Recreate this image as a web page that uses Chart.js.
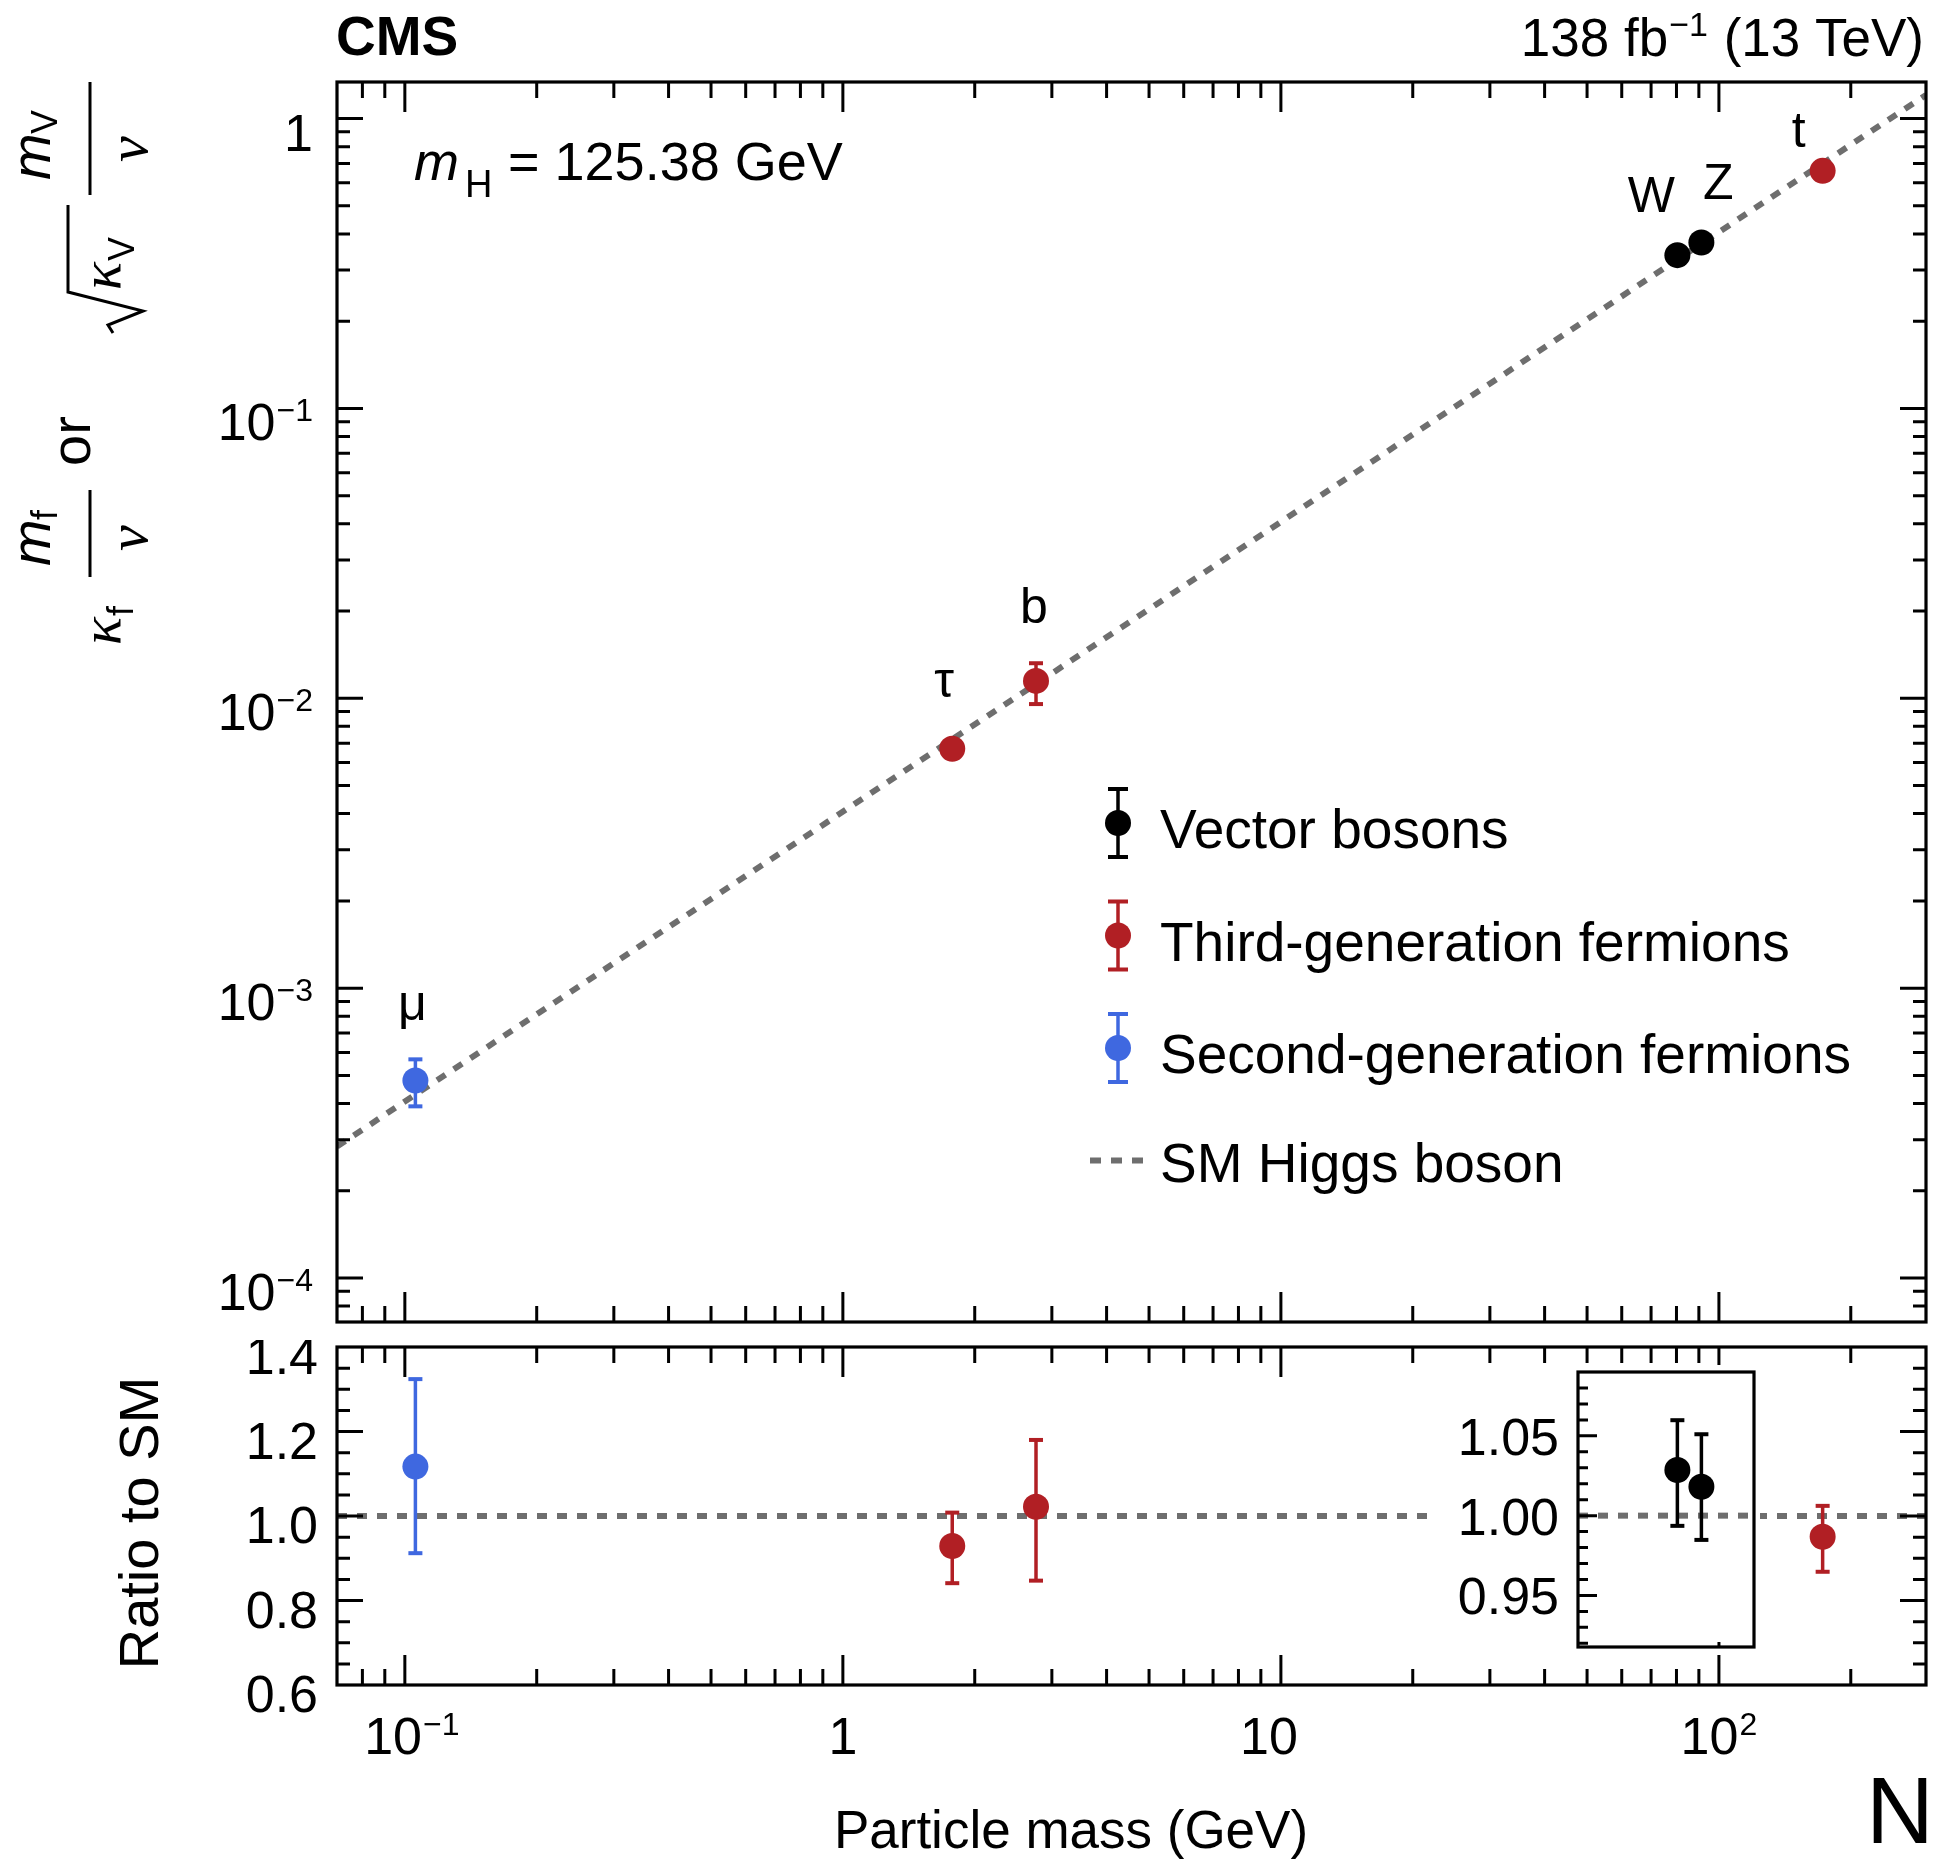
<!DOCTYPE html>
<html>
<head>
<meta charset="utf-8">
<script src="https://cdn.jsdelivr.net/npm/chart.js@4.4.1/dist/chart.umd.min.js"></script>
<style>
  body { margin: 0; background: #fff; }
  #wrap { position: relative; width: 1933px; height: 1862px; background: #fff; }
  #wrap canvas { position: absolute; }
</style>
</head>
<body>
<div id="wrap">
  <canvas id="mainChart" width="1933" height="1340" style="left:0;top:0"></canvas>
  <canvas id="ratioChart" width="1933" height="522" style="left:0;top:1340px"></canvas>
  <canvas id="insetChart" width="330" height="287" style="left:1430px;top:1365px"></canvas>
</div>
<script>
// ---- data ----
var particles = ['μ', 'τ', 'b', 'W', 'Z', 't'];
var group     = ['second', 'third', 'third', 'vector', 'vector', 'third'];
var masses    = [0.1057, 1.777, 2.76, 80.38, 91.19, 172.5];          // GeV

// upper panel: kappa * m / v  (or sqrt(kappa_V) * m_V / v)
var coupling   = [4.80e-4, 6.70e-3, 1.148e-2, 0.3378, 0.3736, 0.660];
var couplingHi = [5.68e-4, 7.26e-3, 1.321e-2, 0.348, 0.3857, 0.7105];
var couplingLo = [3.91e-4, 6.08e-3, 9.55e-3, 0.3263, 0.3614, 0.6024];

// lower panel: ratio to SM
var ratio   = [1.117, 0.929, 1.022, 1.0286, 1.0181, 0.951];
var ratioHi = [1.324, 1.008, 1.180, 1.0598, 1.051, 1.024];
var ratioLo = [0.912, 0.841, 0.847, 0.9936, 0.9848, 0.868];

// SM Higgs boson expectation (end points of the dotted line)
var smLineX = [0.07, 297];
var smLineY = [2.843e-4, 1.206];
var smRatio = [1, 1];

// tick labels
var xTicks = [0.1, 1, 10, 100];
var xTickLabels = [['10', '−1'], ['1', ''], ['10', ''], ['10', '2']];
var yTicks = [1e-4, 1e-3, 1e-2, 1e-1, 1];
var yTickLabels = [['10', '−4'], ['10', '−3'], ['10', '−2'], ['10', '−1'], ['1', '']];
var ratioTicks = [0.6, 0.8, 1.0, 1.2, 1.4];
var ratioTickLabels = ['0.6', '0.8', '1.0', '1.2', '1.4'];
var insetTicks = [0.95, 1.00, 1.05];
var insetTickLabels = ['0.95', '1.00', '1.05'];

// ---- styles ----
var colors = { vector: '#000000', third: '#b11f24', second: '#3f68e0' };
var groupNames = { vector: 'Vector bosons', third: 'Third-generation fermions', second: 'Second-generation fermions' };
var smColor = '#6e6e6e';
var SANS = '"Liberation Sans", Arial, Helvetica, sans-serif';
var SERIF = '"Liberation Serif", "Times New Roman", serif';
var labelOffset = [[-3, -61], [-8, -52], [-2, -58], [-26, -43], [17, -44], [-24, -24]];
var xLabelShift = [7, 0, -12, 0];
var DOT_R = 13;

function pointSet(key, yv, hi, lo, keep) {
  var data = [];
  masses.forEach(function (m, i) {
    if (group[i] === key && keep(i)) data.push({ x: m, y: yv[i], hi: hi[i], lo: lo[i] });
  });
  return {
    label: groupNames[key], data: data, group: key,
    backgroundColor: colors[key], borderWidth: 0,
    pointRadius: DOT_R, pointHoverRadius: DOT_R, showLine: false,
    errorBars: true, order: 1
  };
}

function lineSet(xs, ys) {
  return {
    label: 'SM Higgs boson', data: xs.map(function (x, i) { return { x: x, y: ys[i] }; }),
    showLine: true, borderColor: smColor, borderWidth: 6, borderDash: [10, 10],
    pointRadius: 0, fill: false, order: 2, isLine: true
  };
}

// minor/major tick helpers (positions only)
function logTicks(lo, hi, major, minor) {
  var out = [];
  for (var e = Math.floor(Math.log10(lo)); e <= Math.ceil(Math.log10(hi)); e++) {
    for (var k = 1; k <= 9; k++) {
      var v = k * Math.pow(10, e);
      if (v >= lo * 1.0001 && v <= hi * 0.9999) out.push([v, k === 1 ? major : minor]);
    }
  }
  return out;
}

function drawFrame(chart, o) {
  var ctx = chart.ctx, a = chart.chartArea, sx = chart.scales.x, sy = chart.scales.y;
  ctx.save();
  ctx.strokeStyle = '#000';
  ctx.lineWidth = 3;
  ctx.beginPath();
  (o.xTicks || []).forEach(function (t) {
    var px = sx.getPixelForValue(t[0]);
    if (px < a.left + 2 || px > a.right - 2) return;
    if (o.bottom) { ctx.moveTo(px, a.bottom); ctx.lineTo(px, a.bottom - t[1]); }
    if (o.top) { ctx.moveTo(px, a.top); ctx.lineTo(px, a.top + t[1]); }
  });
  (o.yTicks || []).forEach(function (t) {
    var py = sy.getPixelForValue(t[0]);
    if (py < a.top + 2 || py > a.bottom - 2) return;
    if (o.left) { ctx.moveTo(a.left, py); ctx.lineTo(a.left + t[1], py); }
    if (o.right) { ctx.moveTo(a.right, py); ctx.lineTo(a.right - t[1], py); }
  });
  ctx.stroke();
  ctx.lineWidth = 3.2;
  ctx.strokeRect(a.left, a.top, a.right - a.left, a.bottom - a.top);
  ctx.restore();
}

function expLabel(ctx, base, exp, x, y, align, size) {
  size = size || 52;
  var bf = size + 'px ' + SANS, ef = Math.round(size * 0.62) + 'px ' + SANS;
  ctx.font = bf; var wb = ctx.measureText(base).width;
  ctx.font = ef; var we = exp ? ctx.measureText(exp).width + 1 : 0;
  var w = wb + we;
  var x0 = align === 'right' ? x - w : (align === 'center' ? x - w / 2 : x);
  ctx.textAlign = 'left';
  ctx.font = bf; ctx.fillText(base, x0, y);
  if (exp) { ctx.font = ef; ctx.fillText(exp, x0 + wb + 1, y - size * 0.37); }
  return w;
}

function rot(ctx, s, bx, sy, font) {
  ctx.save();
  ctx.translate(bx, sy);
  ctx.rotate(-Math.PI / 2);
  ctx.font = font; ctx.textAlign = 'left'; ctx.textBaseline = 'alphabetic';
  ctx.fillText(s, 0, 0);
  ctx.restore();
}

// error bars: only the part sticking out of the marker is drawn
var errorBars = {
  id: 'errorBars',
  beforeDatasetDraw: function (chart, args) {
    var ds = chart.data.datasets[args.index];
    if (!ds.errorBars) return;
    var ctx = chart.ctx, sy = chart.scales.y, cap = 7;
    ctx.save();
    ctx.strokeStyle = ds.backgroundColor;
    args.meta.data.forEach(function (pt, i) {
      var d = ds.data[i];
      [sy.getPixelForValue(d.hi), sy.getPixelForValue(d.lo)].forEach(function (end) {
        if (Math.abs(end - pt.y) <= DOT_R + 2) return;
        ctx.lineWidth = 3.5;
        ctx.beginPath(); ctx.moveTo(pt.x, pt.y); ctx.lineTo(pt.x, end); ctx.stroke();
        ctx.lineWidth = 4;
        ctx.beginPath(); ctx.moveTo(pt.x - cap, end); ctx.lineTo(pt.x + cap, end); ctx.stroke();
      });
    });
    ctx.restore();
  }
};

function baseOptions(xmin, xmax, ytype, ymin, ymax, pad) {
  return {
    responsive: false, animation: false, devicePixelRatio: 1,
    layout: { padding: pad, autoPadding: false },
    plugins: { legend: { display: false }, tooltip: { enabled: false } },
    events: [],
    scales: {
      x: { type: 'logarithmic', min: xmin, max: xmax, bounds: 'data', display: false },
      y: { type: ytype, min: ymin, max: ymax, bounds: 'data', display: false }
    }
  };
}

var X_MIN = 0.07, X_MAX = 297;
var xTickMarks = logTicks(X_MIN, X_MAX, 30, 16);

// ---------------- upper panel ----------------
var mainDecor = {
  id: 'mainDecor',
  afterDraw: function (chart) {
    var ctx = chart.ctx, sx = chart.scales.x, sy = chart.scales.y;
    drawFrame(chart, { xTicks: xTickMarks, yTicks: logTicks(7.05e-5, 1.337, 26, 13),
      top: true, bottom: true, left: true, right: true });
    ctx.save();
    ctx.fillStyle = '#000';
    yTicks.forEach(function (v, i) {
      var py = sy.getPixelForValue(v);
      expLabel(ctx, yTickLabels[i][0], yTickLabels[i][1], 313, py + 32, 'right');
    });
    // headers
    ctx.font = 'bold 55px ' + SANS; ctx.textAlign = 'left';
    ctx.fillText('CMS', 336, 55);
    ctx.font = '53px ' + SANS;
    var p1 = '138 fb', p2 = ' (13 TeV)';
    var w1 = ctx.measureText(p1).width, w3 = ctx.measureText(p2).width;
    ctx.font = '34px ' + SANS; var w2 = ctx.measureText('−1').width + 2;
    var x0 = 1924 - w1 - w2 - w3;
    ctx.font = '53px ' + SANS; ctx.fillText(p1, x0, 56);
    ctx.font = '34px ' + SANS; ctx.fillText('−1', x0 + w1 + 1, 36);
    ctx.font = '53px ' + SANS; ctx.fillText(p2, x0 + w1 + w2, 56);
    // m_H label
    ctx.font = 'italic 54px ' + SANS; ctx.fillText('m', 414, 180);
    ctx.font = '38px ' + SANS; ctx.fillText('H', 465, 197);
    ctx.font = '54px ' + SANS; ctx.fillText('= 125.38 GeV', 508, 180);
    // particle labels
    ctx.font = '50px ' + SANS; ctx.textAlign = 'center';
    particles.forEach(function (p, i) {
      var px = sx.getPixelForValue(masses[i]) + labelOffset[i][0];
      var py = sy.getPixelForValue(coupling[i]) + labelOffset[i][1];
      ctx.fillText(p, px, py);
    });
    // legend
    var lx = 1118, ly = 823, step = 112.5;
    chart.data.datasets.forEach(function (ds, k) {
      var cy = ly + k * step;
      ctx.textAlign = 'left'; ctx.fillStyle = '#000'; ctx.font = '55px ' + SANS;
      if (ds.isLine) {
        ctx.save();
        ctx.strokeStyle = smColor; ctx.lineWidth = 6; ctx.setLineDash([11, 10]);
        ctx.beginPath(); ctx.moveTo(1090, cy); ctx.lineTo(1148, cy); ctx.stroke();
        ctx.restore();
        ctx.fillText(ds.label, 1160, cy + 21);
        return;
      }
      ctx.strokeStyle = ds.backgroundColor; ctx.fillStyle = ds.backgroundColor;
      ctx.lineWidth = 3.5;
      ctx.beginPath(); ctx.moveTo(lx, cy - 34); ctx.lineTo(lx, cy + 34); ctx.stroke();
      ctx.lineWidth = 4;
      ctx.beginPath();
      ctx.moveTo(lx - 10, cy - 34); ctx.lineTo(lx + 10, cy - 34);
      ctx.moveTo(lx - 10, cy + 34); ctx.lineTo(lx + 10, cy + 34);
      ctx.stroke();
      ctx.beginPath(); ctx.arc(lx, cy, DOT_R, 0, Math.PI * 2); ctx.fill();
      ctx.fillStyle = '#000';
      ctx.fillText(ds.label, 1160, cy + 25);
    });
    // y axis title (rotated maths)
    ctx.fillStyle = '#000'; ctx.strokeStyle = '#000';
    var mI = 'italic 56px ' + SANS, kI = 'italic 58px ' + SERIF, sub = '36px ' + SANS;
    rot(ctx, 'κ', 120, 645, kI);
    rot(ctx, 'f', 133, 616, sub);
    rot(ctx, 'm', 50, 566, mI);
    rot(ctx, 'f', 57, 520, sub);
    rot(ctx, 'v', 147, 551, kI);
    rot(ctx, 'or', 90, 466, '56px ' + SANS);
    rot(ctx, 'κ', 120, 290, kI);
    rot(ctx, 'V', 134, 261, sub);
    rot(ctx, 'm', 50, 180, mI);
    rot(ctx, 'V', 57, 134, sub);
    rot(ctx, 'v', 147, 162, kI);
    ctx.lineWidth = 3;
    ctx.beginPath();
    ctx.moveTo(90, 577); ctx.lineTo(90, 490);
    ctx.moveTo(90, 195); ctx.lineTo(90, 82);
    ctx.stroke();
    ctx.beginPath();
    ctx.moveTo(113, 333); ctx.lineTo(108, 325); ctx.lineTo(143, 311);
    ctx.lineTo(68, 292); ctx.lineTo(68, 205);
    ctx.stroke();
    ctx.restore();
  }
};

var mainKeep = function () { return true; };
new Chart(document.getElementById('mainChart'), {
  type: 'scatter',
  data: {
    datasets: [
      pointSet('vector', coupling, couplingHi, couplingLo, mainKeep),
      pointSet('third', coupling, couplingHi, couplingLo, mainKeep),
      pointSet('second', coupling, couplingHi, couplingLo, mainKeep),
      lineSet(smLineX, smLineY)
    ]
  },
  options: baseOptions(X_MIN, X_MAX, 'logarithmic', 7.05e-5, 1.337, { left: 337, right: 7, top: 82, bottom: 18 }),
  plugins: [errorBars, mainDecor]
});

// ---------------- ratio panel ----------------
var ratioMarks = [];
for (var i = 0; i <= 16; i++) ratioMarks.push([0.6 + i * 0.05, i % 4 === 0 ? 26 : 13]);

var ratioDecor = {
  id: 'ratioDecor',
  afterDraw: function (chart) {
    var ctx = chart.ctx, sx = chart.scales.x, sy = chart.scales.y;
    drawFrame(chart, { xTicks: xTickMarks, yTicks: ratioMarks, top: true, bottom: true, left: true, right: true });
    ctx.save();
    ctx.fillStyle = '#000';
    ctx.font = '52px ' + SANS; ctx.textAlign = 'right';
    ratioTicks.forEach(function (v, i) {
      ctx.fillText(ratioTickLabels[i], 318, sy.getPixelForValue(v) + 27);
    });
    xTicks.forEach(function (v, i) {
      expLabel(ctx, xTickLabels[i][0], xTickLabels[i][1], sx.getPixelForValue(v) + xLabelShift[i], 414, 'center');
    });
    ctx.font = '53px ' + SANS; ctx.textAlign = 'center';
    ctx.fillText('Particle mass (GeV)', 1071, 508);
    ctx.save();
    ctx.translate(158, 183); ctx.rotate(-Math.PI / 2);
    ctx.font = '56px ' + SANS; ctx.textAlign = 'center';
    ctx.fillText('Ratio to SM', 0, 0);
    ctx.restore();
    ctx.font = '94px ' + SANS; ctx.textAlign = 'left';
    ctx.fillText('N', 1866, 503);
    ctx.restore();
  }
};

new Chart(document.getElementById('ratioChart'), {
  type: 'scatter',
  data: {
    datasets: [
      pointSet('third', ratio, ratioHi, ratioLo, mainKeep),
      pointSet('second', ratio, ratioHi, ratioLo, mainKeep),
      lineSet(smLineX, smRatio)
    ]
  },
  options: baseOptions(X_MIN, X_MAX, 'linear', 0.6, 1.4, { left: 337, right: 7, top: 7, bottom: 177 }),
  plugins: [errorBars, ratioDecor]
});

// ---------------- inset (vector bosons, zoomed ratio) ----------------
var insetMarks = [];
for (var j = 92; j <= 108; j++) insetMarks.push([j / 100, j % 5 === 0 ? 19 : 10]);

var insetDecor = {
  id: 'insetDecor',
  beforeDraw: function (chart) {
    var ctx = chart.ctx;
    ctx.save(); ctx.fillStyle = '#fff';
    ctx.fillRect(0, 0, chart.width, chart.height);
    ctx.restore();
  },
  afterDraw: function (chart) {
    var ctx = chart.ctx, sy = chart.scales.y;
    drawFrame(chart, { xTicks: [[100, 5]], yTicks: insetMarks, bottom: true, left: true });
    ctx.save();
    ctx.fillStyle = '#000'; ctx.font = '52px ' + SANS; ctx.textAlign = 'right';
    insetTicks.forEach(function (v, i) {
      ctx.fillText(insetTickLabels[i], 129, sy.getPixelForValue(v) + 19);
    });
    ctx.restore();
  }
};

new Chart(document.getElementById('insetChart'), {
  type: 'scatter',
  data: {
    datasets: [
      pointSet('vector', ratio, ratioHi, ratioLo, mainKeep),
      lineSet([47.7, 120.2], smRatio)
    ]
  },
  options: baseOptions(47.7, 120.2, 'linear', 0.9177, 1.09, { left: 148, right: 6, top: 7, bottom: 5 }),
  plugins: [errorBars, insetDecor]
});
</script>
</body>
</html>
